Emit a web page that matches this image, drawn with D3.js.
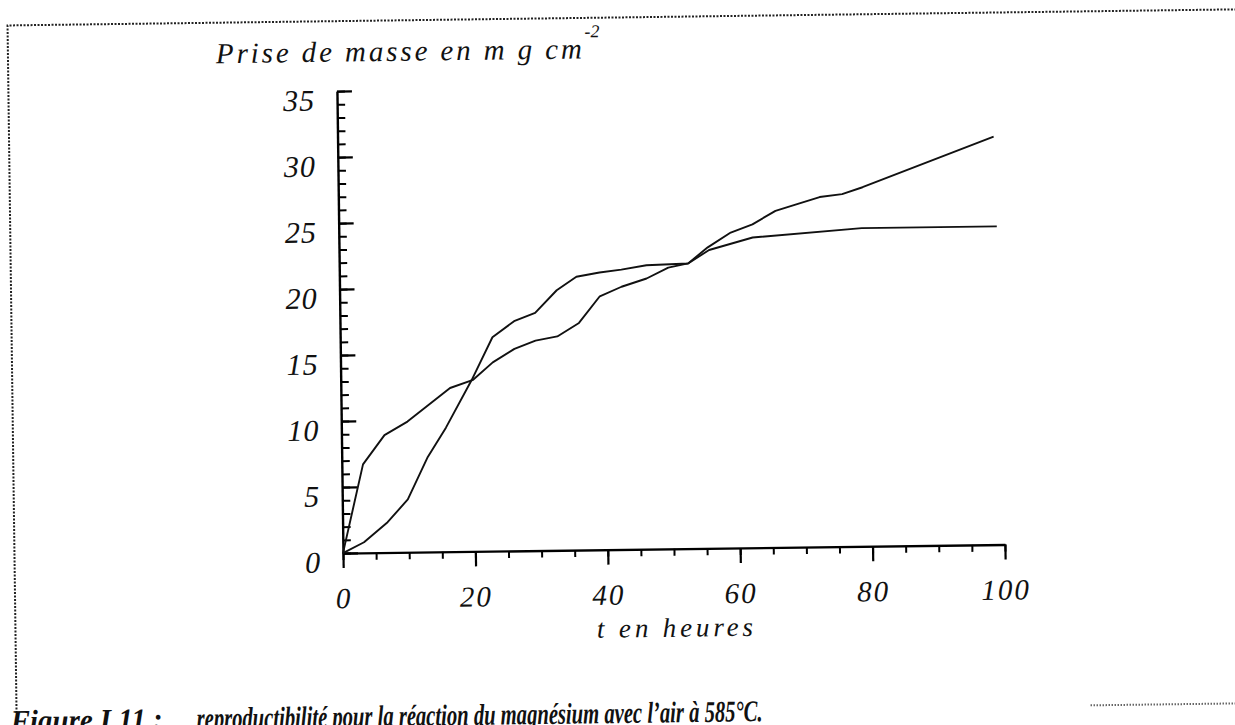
<!DOCTYPE html>
<html>
<head>
<meta charset="utf-8">
<script src="https://cdn.jsdelivr.net/npm/d3@7"></script>
<style>
  body { margin: 0; background: #fff; }
  svg { display: block; }
</style>
</head>
<body>
<div id="chart"></div>
<script>
// essai 1 : prise de masse rapide au debut
let timeA = [0, 3.2, 6.5, 10, 16.5, 20, 23, 26.3, 29.5, 32.8, 36.1, 39.3, 42.6, 46.4, 49.7, 52.7, 55.7, 59.2, 62.5, 66, 69.4, 72.7, 76.1, 79.2, 99.1]
let massA = [0, 6.7, 8.9, 9.9, 12.4, 13.0, 14.3, 15.3, 15.9, 16.2, 17.2, 19.2, 19.9, 20.5, 21.3, 21.6, 22.8, 23.9, 24.5, 25.5, 26.0, 26.5, 26.7, 27.2, 30.9]

// essai 2 : courbe en S qui plafonne
let timeB = [0, 3.2, 6.8, 9.9, 13, 15.8, 19.8, 23, 26.3, 29.5, 32.8, 35.8, 39.3, 42.6, 46.4, 52.7, 55.9, 62.5, 79, 99.4]
let massB = [0, 0.8, 2.3, 4.0, 7.2, 9.4, 13.0, 16.2, 17.4, 18.0, 19.7, 20.7, 21.0, 21.2, 21.5, 21.6, 22.6, 23.5, 24.1, 24.1]

let xMajor = [0, 20, 40, 60, 80, 100]
let yMajor = [0, 5, 10, 15, 20, 25, 30, 35]

let width = 1235
let height = 725
let origin = { x: 340.5, y: 549.5 }
let plotW = 662
let plotH = 462

let svg = d3
  .select('#chart')
  .append('svg')
  .attr('width', width)
  .attr('height', height)

let serif = "'Liberation Serif', 'DejaVu Serif', serif"

// toute la page scannee est un peu tournee
let page = svg.append('g')
  .attr('transform', 'rotate(-0.75, 617, 362)')

// cadre pointille
page.append('path')
  .attr('d', `M12,705 L12,17.5 L1245,17.5`)
  .attr('fill', 'none')
  .attr('stroke', '#222')
  .attr('stroke-width', 2)
  .attr('stroke-dasharray', '2,1.5')

page.append('line')
  .attr('x1', 1086).attr('y1', 711.5)
  .attr('x2', 1245).attr('y2', 711.5)
  .attr('stroke', '#666')
  .attr('stroke-width', 2)
  .attr('stroke-dasharray', '1.5,1.5')

let xScale = d3.scaleLinear().domain([0, 100]).range([0, plotW])
let yScale = d3.scaleLinear().domain([0, 35]).range([0, -plotH])

let g = page.append('g')
  .attr('transform', `translate(${origin.x},${origin.y})`)

// y axis : petites graduations
g.append('g')
  .call(d3.axisLeft(yScale).tickValues(d3.range(0, 36, 1)).tickSizeInner(-8).tickSizeOuter(0).tickFormat(''))
  .call(a => a.selectAll('line').attr('stroke-width', 2))
  .call(a => a.select('.domain').attr('stroke-width', 2.4))

g.append('g')
  .call(d3.axisLeft(yScale).tickValues(yMajor).tickSizeInner(-15).tickSizeOuter(0).tickPadding(22))
  .call(a => a.select('.domain').remove())
  .call(a => a.selectAll('line').attr('stroke-width', 2.2))
  .call(a => a.selectAll('text')
    .attr('y', 9)
    .attr('font-family', serif)
    .attr('font-style', 'italic')
    .attr('font-size', 30)
    .attr('letter-spacing', 1)
    .attr('fill', '#111'))

// x axis
g.append('g')
  .call(d3.axisBottom(xScale).tickValues(d3.range(0, 101, 5)).tickSizeInner(7).tickSizeOuter(0).tickFormat(''))
  .call(a => a.selectAll('line').attr('stroke-width', 2))
  .call(a => a.select('.domain').attr('stroke-width', 2.4))

g.append('g')
  .call(d3.axisBottom(xScale).tickValues(xMajor).tickSizeInner(15).tickSizeOuter(0))
  .call(a => a.select('.domain').remove())
  .call(a => a.selectAll('line').attr('stroke-width', 2.2))
  .call(a => a.selectAll('text')
    .attr('y', 45)
    .attr('dy', '0.35em')
    .attr('font-family', serif)
    .attr('font-style', 'italic')
    .attr('font-size', 29)
    .attr('letter-spacing', 2)
    .attr('fill', '#111'))

let line = d3.line()
  .x(d => xScale(d[0]))
  .y(d => yScale(d[1]))

let series = [d3.zip(timeA, massA), d3.zip(timeB, massB)]

g.selectAll('.courbe')
  .data(series)
  .enter()
  .append('path')
  .attr('class', 'courbe')
  .attr('d', line)
  .attr('fill', 'none')
  .attr('stroke', '#111')
  .attr('stroke-width', 1.9)
  .attr('stroke-linejoin', 'round')

g.append('text')
  .attr('x', xScale(50) - 78)
  .attr('y', 88)
  .attr('font-family', serif)
  .attr('font-style', 'italic')
  .attr('font-size', 27)
  .attr('textLength', 156)
  .attr('lengthAdjust', 'spacing')
  .attr('fill', '#111')
  .text('t en heures')

// titre de l'axe y
let title = page.append('text')
  .attr('x', 220)
  .attr('y', 58)
  .attr('font-family', serif)
  .attr('font-style', 'italic')
  .attr('font-size', 29)
  .attr('fill', '#111')
title.append('tspan')
  .attr('textLength', 366)
  .attr('lengthAdjust', 'spacing')
  .text('Prise de masse en m g cm')
title.append('tspan')
  .attr('dy', -21)
  .attr('font-size', 18)
  .text('-2')

// legende de la figure (coupee par le bas du scan)
let caption = page.append('g')
  .attr('font-family', serif)
  .attr('font-style', 'italic')
  .attr('font-weight', 'bold')
  .attr('font-size', 30)
  .attr('fill', '#111')

caption.append('text')
  .attr('x', 6)
  .attr('y', 723)
  .attr('textLength', 152)
  .attr('lengthAdjust', 'spacingAndGlyphs')
  .text('Figure I.11 :')

caption.append('text')
  .attr('x', 192)
  .attr('y', 723)
  .attr('textLength', 566)
  .attr('lengthAdjust', 'spacingAndGlyphs')
  .text('reproductibilité pour la réaction du magnésium avec l’air à 585°C.')
</script>
</body>
</html>
